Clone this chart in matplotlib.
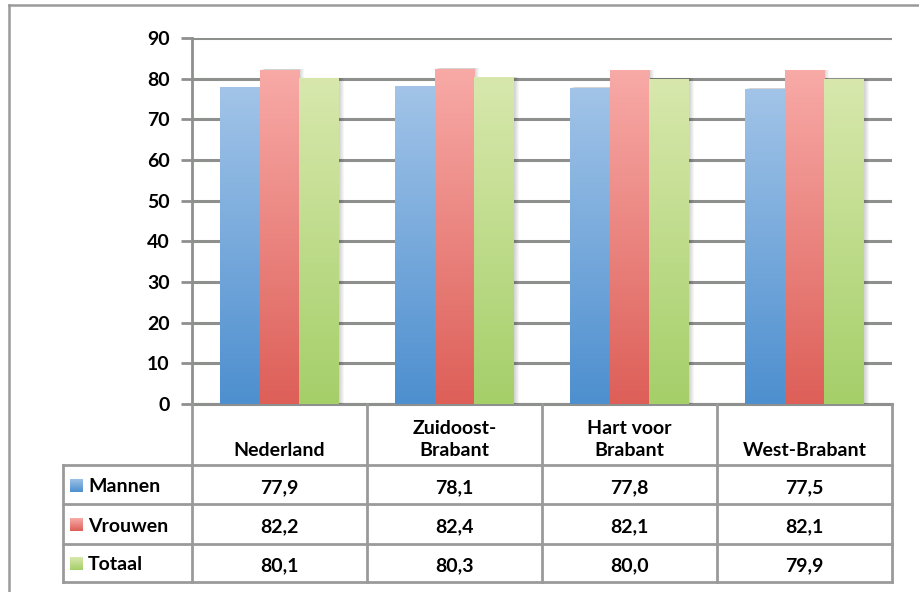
import numpy as np
import matplotlib.pyplot as plt
import matplotlib.transforms as mtransforms
from matplotlib.patches import Rectangle
from matplotlib.lines import Line2D
from matplotlib.colors import LinearSegmentedColormap

# Levensverwachting per regio
regions = ['Nederland', 'Zuidoost-\nBrabant', 'Hart voor\nBrabant', 'West-Brabant']
series = ['Mannen', 'Vrouwen', 'Totaal']
mannen = [77.9, 78.1, 77.8, 77.5]
vrouwen = [82.2, 82.4, 82.1, 82.1]
totaal = [80.1, 80.3, 80.0, 79.9]
yticks = [0, 10, 20, 30, 40, 50, 60, 70, 80, 90]

values = [mannen, vrouwen, totaal]
# (top, bottom) colours of the gradient fill
shades = [('#a2c4e8', '#4d8fcf'),
          ('#f8aaa7', '#dd5f58'),
          ('#d8e8ad', '#a5cf69')]
grid_col = '#8e908e'
line_col = '#9a9a9a'
fs = 14

plt.rcParams['font.family'] = ['Lato', 'DejaVu Sans']
plt.rcParams['font.weight'] = 'bold'

W, H = 919, 592
fig = plt.figure(figsize=(W / 100, H / 100), dpi=100)


def fx(x):
    return x / W


def fy(y):
    return 1 - y / H


ax = fig.add_axes([fx(192), fy(404), fx(892) - fx(192), fy(38) - fy(404)])

bar_w = 0.225
x = np.arange(len(regions))
for i, vals in enumerate(values):
    cmap = LinearSegmentedColormap.from_list('g%d' % i, [shades[i][1], shades[i][0]])
    bars = ax.bar(x + (i - 1) * bar_w, vals, width=bar_w, color='none', zorder=4)
    for b in bars:
        x0, w, h = b.get_x(), b.get_width(), b.get_height()
        # soft drop shadow to the right
        for k in range(1, 6):
            off = mtransforms.ScaledTranslation(k / 100, 0.5 / 100, fig.dpi_scale_trans)
            ax.add_patch(Rectangle((x0, 0), w, h, facecolor='black', alpha=0.035,
                                   edgecolor='none', transform=ax.transData + off, zorder=3))
        grad = np.linspace(0, 1, 256).reshape(-1, 1)
        im = ax.imshow(grad, extent=[x0, x0 + w, 0, h], origin='lower', aspect='auto',
                       cmap=cmap, zorder=4)
        im.set_clip_path(b)

ax.set_xlim(-0.5, len(regions) - 0.5)
ax.set_ylim(0, 90)
ax.set_yticks(yticks)
ax.set_yticklabels([str(t) for t in yticks], fontsize=fs, fontweight='bold')
ax.set_xticks([])
ax.tick_params(axis='y', length=8, width=2, color=grid_col, pad=8)
ax.grid(axis='y', color=grid_col, linewidth=2.2, zorder=1)
ax.set_axisbelow(True)
for s in ['top', 'right']:
    ax.spines[s].set_visible(False)
ax.spines['left'].set_color(grid_col)
ax.spines['left'].set_linewidth(2)
ax.spines['bottom'].set_color(grid_col)
ax.spines['bottom'].set_linewidth(2.2)

# data table below the chart, columns follow the category axis
fig.canvas.draw()
bounds = [ax.transData.transform((v, 0))[0] for v in np.arange(-0.5, len(regions), 1.0)]
centers = [ax.transData.transform((v, 0))[0] for v in x]
rows = [404, 465, 504, 544, 582]
left = 63


def hline(y, x0, x1):
    fig.add_artist(Line2D([fx(x0), fx(x1)], [fy(y), fy(y)], color=line_col, lw=2))


def vline(xp, y0, y1):
    fig.add_artist(Line2D([fx(xp), fx(xp)], [fy(y0), fy(y1)], color=line_col, lw=2))


for r in rows[1:]:
    hline(r, left, bounds[-1])
for b in bounds:
    vline(b, rows[0], rows[-1])
vline(left, rows[1], rows[-1])

for c, name in zip(centers, regions):
    fig.text(fx(c), fy(459), name, ha='center', va='bottom', fontsize=fs,
             fontweight='bold', linespacing=1.35)

for i, (name, vals) in enumerate(zip(series, values)):
    yc = (rows[i + 1] + rows[i + 2]) / 2
    # legend key
    cmap = LinearSegmentedColormap.from_list('k%d' % i, [shades[i][0], shades[i][1]])
    kax = fig.add_axes([fx(70), fy(yc + 7), fx(83) - fx(70), fy(yc - 6) - fy(yc + 7)])
    kax.imshow(np.linspace(0, 1, 64).reshape(-1, 1), cmap=cmap, aspect='auto')
    kax.axis('off')
    fig.text(fx(88), fy(yc + 2), name, ha='left', va='center', fontsize=fs, fontweight='bold')
    for c, v in zip(centers, vals):
        fig.text(fx(c), fy(yc + 3), ('%.1f' % v).replace('.', ','), ha='center',
                 va='center', fontsize=fs, fontweight='bold')

# outer chart frame
fig.add_artist(Line2D([fx(8.5), 1], [fy(4.5), fy(4.5)], color=line_col, lw=1.8))
fig.add_artist(Line2D([fx(8.5), fx(8.5)], [fy(4.5), 0], color=line_col, lw=1.8))

fig.savefig('out.png', dpi=100)
